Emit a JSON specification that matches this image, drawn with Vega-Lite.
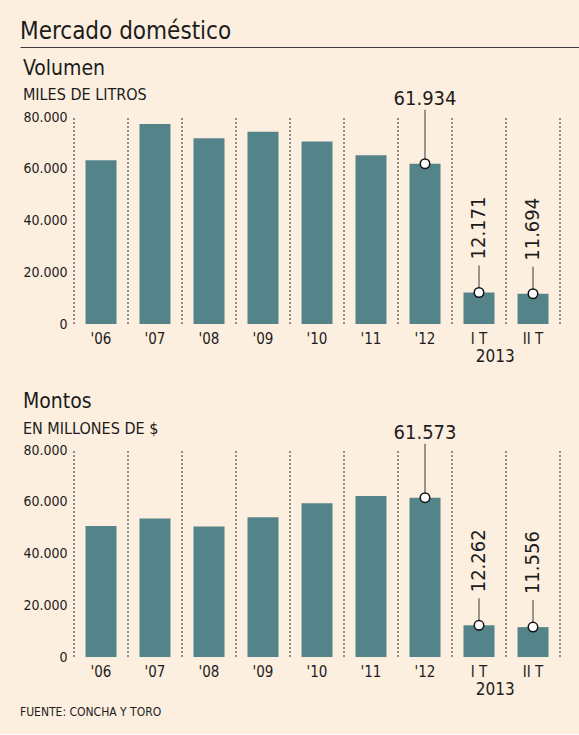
{
  "$schema": "https://vega.github.io/schema/vega-lite/v6.json",
  "background": "#fcefdf",
  "padding": {"left": 20, "top": 20, "right": 0, "bottom": 15},
  "title": {
    "text": "FUENTE: CONCHA Y TORO",
    "orient": "bottom",
    "anchor": "start",
    "frame": "bounds",
    "fontSize": 12,
    "offset": 9
  },
  "datasets": {
    "volumen": [
      {"periodo": "'06", "valor": 63300},
      {"periodo": "'07", "valor": 77300},
      {"periodo": "'08", "valor": 71800},
      {"periodo": "'09", "valor": 74300},
      {"periodo": "'10", "valor": 70500},
      {"periodo": "'11", "valor": 65200},
      {"periodo": "'12", "valor": 61934},
      {"periodo": "I T", "valor": 12171},
      {"periodo": "II T", "valor": 11694}
    ],
    "montos": [
      {"periodo": "'06", "valor": 50600},
      {"periodo": "'07", "valor": 53500},
      {"periodo": "'08", "valor": 50400},
      {"periodo": "'09", "valor": 54000},
      {"periodo": "'10", "valor": 59400},
      {"periodo": "'11", "valor": 62200},
      {"periodo": "'12", "valor": 61573},
      {"periodo": "I T", "valor": 12262},
      {"periodo": "II T", "valor": 11556}
    ],
    "anio": [{"periodo": "I T", "texto": "2013"}],
    "fin": [{"periodo": "II T"}]
  },
  "spacing": 10,
  "vconcat": [
    {
      "width": 505,
      "height": 1,
      "title": {"text": "Mercado doméstico", "fontSize": 24, "anchor": "start", "frame": "bounds", "offset": 2},
      "data": {"values": [{"v": 0}, {"v": 1}]},
      "mark": {"type": "point", "size": 0, "strokeWidth": 0, "opacity": 0},
      "encoding": {
        "x": {
          "field": "v",
          "type": "quantitative",
          "title": null,
          "scale": {"domain": [0, 1], "nice": false, "range": [-54, 505]},
          "axis": {"labels": false, "ticks": false, "grid": false, "domainColor": "#3c3c3c", "domainWidth": 1.2}
        }
      }
    },
    {
      "spacing": 24,
      "vconcat": [
        {
          "width": 486,
          "height": 207,
          "title": {"text": "Volumen", "subtitle": "MILES DE LITROS", "anchor": "start", "frame": "bounds", "fontSize": 21, "subtitleFontSize": 16, "subtitlePadding": 8, "offset": -14},
          "data": {"name": "volumen"},
          "encoding": {
            "x": {
              "field": "periodo",
              "type": "nominal",
              "title": null,
              "scale": {"domain": ["'06", "'07", "'08", "'09", "'10", "'11", "'12", "I T", "II T"], "paddingInner": 0, "paddingOuter": 0},
              "axis": {"labelFontSize": 15, "labelPadding": 7, "ticks": false, "domain": false, "labelAngle": 0}
            }
          },
          "layer": [
            {
              "mark": {"type": "rule", "strokeDash": [2, 2], "color": "#2b2b2b", "strokeWidth": 1},
              "encoding": {
                "x": {"field": "periodo", "type": "nominal", "bandPosition": 0, "title": null},
                "y": {"datum": 0, "type": "quantitative"},
                "y2": {"datum": 80000}
              }
            },
            {
              "data": {"name": "fin"},
              "mark": {"type": "rule", "strokeDash": [2, 2], "color": "#2b2b2b", "strokeWidth": 1},
              "encoding": {
                "x": {"field": "periodo", "type": "nominal", "bandPosition": 1, "title": null},
                "y": {"datum": 0, "type": "quantitative"},
                "y2": {"datum": 80000}
              }
            },
            {
              "mark": {"type": "bar", "width": {"band": 0.574}, "color": "#548389"},
              "encoding": {
                "y": {
                  "field": "valor",
                  "type": "quantitative",
                  "title": null,
                  "scale": {"domain": [0, 80000], "nice": false},
                  "axis": {"values": [0, 20000, 40000, 60000, 80000], "format": ",d", "labelFontSize": 14, "labelPadding": 7, "ticks": false, "domain": false, "grid": false}
                }
              }
            },
            {
              "transform": [{"filter": {"field": "periodo", "equal": "'12"}}],
              "mark": {"type": "rule", "color": "#555555", "strokeWidth": 1.2, "y2Offset": -54},
              "encoding": {
                "y": {"field": "valor", "type": "quantitative", "title": null},
                "y2": {"field": "valor"}
              }
            },
            {
              "transform": [{"filter": {"field": "periodo", "oneOf": ["I T", "II T"]}}],
              "mark": {"type": "rule", "color": "#555555", "strokeWidth": 1.2, "y2Offset": -27},
              "encoding": {
                "y": {"field": "valor", "type": "quantitative", "title": null},
                "y2": {"field": "valor"}
              }
            },
            {
              "transform": [{"filter": {"field": "periodo", "oneOf": ["'12", "I T", "II T"]}}],
              "mark": {"type": "point", "filled": true, "fill": "white", "stroke": "#111111", "strokeWidth": 1.5, "size": 90, "opacity": 1},
              "encoding": {
                "y": {"field": "valor", "type": "quantitative", "title": null}
              }
            },
            {
              "transform": [{"filter": {"field": "periodo", "equal": "'12"}}],
              "mark": {"type": "text", "fontSize": 20, "baseline": "alphabetic", "dy": -59},
              "encoding": {
                "y": {"field": "valor", "type": "quantitative", "title": null},
                "text": {"field": "valor", "type": "quantitative", "format": ",d"}
              }
            },
            {
              "transform": [{"filter": {"field": "periodo", "oneOf": ["I T", "II T"]}}],
              "mark": {"type": "text", "fontSize": 20, "angle": 270, "align": "left", "baseline": "middle", "dx": 33},
              "encoding": {
                "y": {"field": "valor", "type": "quantitative", "title": null},
                "text": {"field": "valor", "type": "quantitative", "format": ",d"}
              }
            },
            {
              "data": {"name": "anio"},
              "mark": {"type": "text", "fontSize": 17, "baseline": "alphabetic"},
              "encoding": {
                "x": {"field": "periodo", "type": "nominal", "bandPosition": 0.8, "title": null},
                "y": {"datum": -14800, "type": "quantitative"},
                "text": {"field": "texto"}
              }
            }
          ]
        },
        {
          "width": 486,
          "height": 207,
          "title": {"text": "Montos", "subtitle": "EN MILLONES DE $", "anchor": "start", "frame": "bounds", "fontSize": 21, "subtitleFontSize": 16, "subtitlePadding": 9, "offset": -14},
          "data": {"name": "montos"},
          "encoding": {
            "x": {
              "field": "periodo",
              "type": "nominal",
              "title": null,
              "scale": {"domain": ["'06", "'07", "'08", "'09", "'10", "'11", "'12", "I T", "II T"], "paddingInner": 0, "paddingOuter": 0},
              "axis": {"labelFontSize": 15, "labelPadding": 7, "ticks": false, "domain": false, "labelAngle": 0}
            }
          },
          "layer": [
            {
              "mark": {"type": "rule", "strokeDash": [2, 2], "color": "#2b2b2b", "strokeWidth": 1},
              "encoding": {
                "x": {"field": "periodo", "type": "nominal", "bandPosition": 0, "title": null},
                "y": {"datum": 0, "type": "quantitative"},
                "y2": {"datum": 80000}
              }
            },
            {
              "data": {"name": "fin"},
              "mark": {"type": "rule", "strokeDash": [2, 2], "color": "#2b2b2b", "strokeWidth": 1},
              "encoding": {
                "x": {"field": "periodo", "type": "nominal", "bandPosition": 1, "title": null},
                "y": {"datum": 0, "type": "quantitative"},
                "y2": {"datum": 80000}
              }
            },
            {
              "mark": {"type": "bar", "width": {"band": 0.574}, "color": "#548389"},
              "encoding": {
                "y": {
                  "field": "valor",
                  "type": "quantitative",
                  "title": null,
                  "scale": {"domain": [0, 80000], "nice": false},
                  "axis": {"values": [0, 20000, 40000, 60000, 80000], "format": ",d", "labelFontSize": 14, "labelPadding": 7, "ticks": false, "domain": false, "grid": false}
                }
              }
            },
            {
              "transform": [{"filter": {"field": "periodo", "equal": "'12"}}],
              "mark": {"type": "rule", "color": "#555555", "strokeWidth": 1.2, "y2Offset": -54},
              "encoding": {
                "y": {"field": "valor", "type": "quantitative", "title": null},
                "y2": {"field": "valor"}
              }
            },
            {
              "transform": [{"filter": {"field": "periodo", "oneOf": ["I T", "II T"]}}],
              "mark": {"type": "rule", "color": "#555555", "strokeWidth": 1.2, "y2Offset": -27},
              "encoding": {
                "y": {"field": "valor", "type": "quantitative", "title": null},
                "y2": {"field": "valor"}
              }
            },
            {
              "transform": [{"filter": {"field": "periodo", "oneOf": ["'12", "I T", "II T"]}}],
              "mark": {"type": "point", "filled": true, "fill": "white", "stroke": "#111111", "strokeWidth": 1.5, "size": 90, "opacity": 1},
              "encoding": {
                "y": {"field": "valor", "type": "quantitative", "title": null}
              }
            },
            {
              "transform": [{"filter": {"field": "periodo", "equal": "'12"}}],
              "mark": {"type": "text", "fontSize": 20, "baseline": "alphabetic", "dy": -59},
              "encoding": {
                "y": {"field": "valor", "type": "quantitative", "title": null},
                "text": {"field": "valor", "type": "quantitative", "format": ",d"}
              }
            },
            {
              "transform": [{"filter": {"field": "periodo", "oneOf": ["I T", "II T"]}}],
              "mark": {"type": "text", "fontSize": 20, "angle": 270, "align": "left", "baseline": "middle", "dx": 33},
              "encoding": {
                "y": {"field": "valor", "type": "quantitative", "title": null},
                "text": {"field": "valor", "type": "quantitative", "format": ",d"}
              }
            },
            {
              "data": {"name": "anio"},
              "mark": {"type": "text", "fontSize": 17, "baseline": "alphabetic"},
              "encoding": {
                "x": {"field": "periodo", "type": "nominal", "bandPosition": 0.8, "title": null},
                "y": {"datum": -14800, "type": "quantitative"},
                "text": {"field": "texto"}
              }
            }
          ]
        }
      ]
    }
  ],
  "config": {
    "view": {"stroke": null},
    "font": "DejaVu Sans Condensed, DejaVu Sans",
    "locale": {"number": {"decimal": ",", "thousands": ".", "grouping": [3], "currency": ["$", ""]}},
    "title": {"fontWeight": "normal", "color": "#1c1c1c", "subtitleColor": "#1c1c1c", "subtitleFont": "DejaVu Sans Condensed, DejaVu Sans"},
    "axis": {"labelColor": "#1c1c1c"},
    "text": {"color": "#1c1c1c"}
  }
}
